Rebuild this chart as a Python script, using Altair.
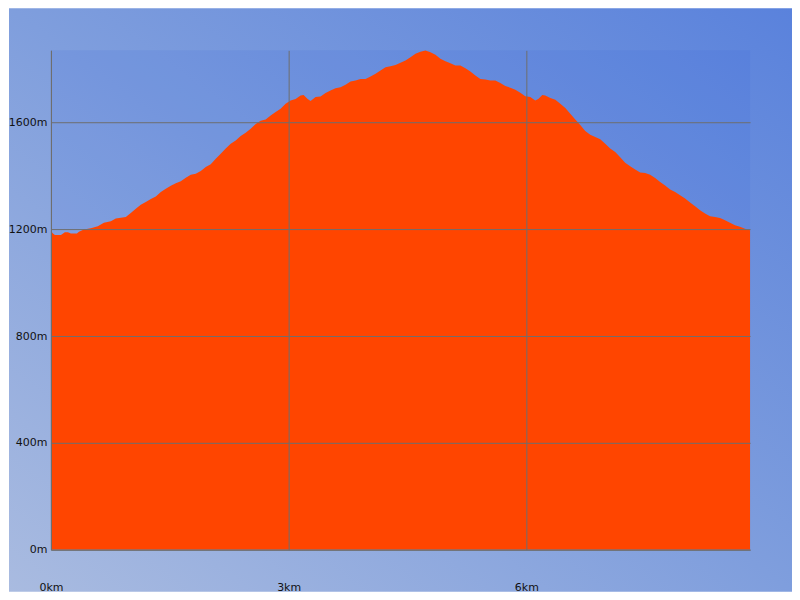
import altair as alt
import pandas as pd

distance_km = [0.000, 0.025, 0.050, 0.126, 0.176, 0.214, 0.252, 0.328, 0.353, 0.416,
               0.504, 0.592, 0.668, 0.756, 0.819, 0.945, 1.008, 1.071, 1.134, 1.197,
               1.261, 1.324, 1.387, 1.450, 1.513, 1.576, 1.639, 1.702, 1.765, 1.828,
               1.891, 1.954, 2.017, 2.080, 2.143, 2.206, 2.269, 2.332, 2.395, 2.458,
               2.521, 2.584, 2.647, 2.710, 2.773, 2.836, 2.899, 2.962, 3.025, 3.088,
               3.151, 3.189, 3.240, 3.277, 3.340, 3.403, 3.466, 3.529, 3.592, 3.655,
               3.718, 3.782, 3.845, 3.908, 3.971, 4.034, 4.097, 4.160, 4.223, 4.286,
               4.349, 4.412, 4.475, 4.538, 4.601, 4.664, 4.727, 4.790, 4.853, 4.916,
               4.979, 5.042, 5.105, 5.168, 5.231, 5.294, 5.357, 5.420, 5.483, 5.546,
               5.609, 5.672, 5.735, 5.798, 5.861, 5.924, 5.987, 6.050, 6.113, 6.151,
               6.202, 6.239, 6.303, 6.366, 6.429, 6.492, 6.555, 6.618, 6.681, 6.744,
               6.807, 6.870, 6.933, 6.996, 7.059, 7.122, 7.185, 7.248, 7.311, 7.374,
               7.437, 7.500, 7.563, 7.626, 7.689, 7.752, 7.815, 7.878, 7.941, 8.004,
               8.067, 8.130, 8.193, 8.256, 8.319, 8.382, 8.445, 8.508, 8.571, 8.634,
               8.697, 8.760, 8.824]

elevation_m = [1194, 1184, 1178, 1178, 1189, 1189, 1184, 1184, 1191, 1199,
               1204, 1211, 1224, 1230, 1240, 1246, 1261, 1277, 1292, 1302,
               1313, 1323, 1339, 1352, 1363, 1372, 1380, 1393, 1404, 1408,
               1418, 1433, 1443, 1464, 1483, 1502, 1520, 1532, 1549, 1561,
               1576, 1594, 1606, 1611, 1626, 1639, 1651, 1670, 1682, 1688,
               1701, 1703, 1688, 1680, 1695, 1697, 1710, 1720, 1728, 1732,
               1741, 1753, 1757, 1763, 1763, 1772, 1782, 1794, 1807, 1810,
               1815, 1823, 1832, 1844, 1857, 1865, 1869, 1863, 1853, 1838,
               1829, 1822, 1813, 1813, 1803, 1791, 1776, 1763, 1761, 1757,
               1757, 1748, 1736, 1730, 1722, 1711, 1698, 1695, 1682, 1688,
               1703, 1701, 1691, 1685, 1670, 1654, 1632, 1611, 1590, 1568,
               1554, 1545, 1537, 1520, 1502, 1489, 1470, 1449, 1436, 1424,
               1412, 1411, 1404, 1392, 1377, 1364, 1349, 1339, 1327, 1315,
               1300, 1286, 1271, 1259, 1249, 1246, 1242, 1234, 1224, 1215,
               1209, 1202, 1196]

x_ticks = [0, 3, 6]
y_ticks = [0, 400, 800, 1200, 1600]
x_max = 8.824
y_max = 1870

df = pd.DataFrame({"km": distance_km, "elev": elevation_m})
one_row = pd.DataFrame({"k": [0]})

FONT = "DejaVu Sans"
GRID = "#6e6e6e"

bg = alt.Chart(one_row).mark_rect(
    fill=alt.LinearGradient(
        gradient="linear",
        stops=[
            alt.GradientStop(color="#a9bbe0", offset=0),
            alt.GradientStop(color="#7f9edd", offset=0.5),
            alt.GradientStop(color="#5a82dc", offset=1),
        ],
        x1=0, y1=1, x2=1, y2=0,
    ),
    strokeWidth=0,
).encode(
    x=alt.value(-42), x2=alt.value(742),
    y=alt.value(-42), y2=alt.value(542),
)

plot_tint = alt.Chart(one_row).mark_rect(
    fill="#3366dd", fillOpacity=0.12, strokeWidth=0
).encode(
    x=alt.value(0), x2=alt.value(700),
    y=alt.value(0), y2=alt.value(500),
)

area = alt.Chart(df).mark_area(color="#ff4500", interpolate="linear").encode(
    x=alt.X("km:Q",
            scale=alt.Scale(domain=[0, x_max], nice=False, zero=True),
            axis=alt.Axis(values=x_ticks, labelExpr="datum.value + 'km'",
                          title=None, ticks=False, tickSize=0,
                          labelPadding=38, labelBaseline="middle",
                          labelFlush=False, labelAlign="center",
                          grid=True, gridColor=GRID, gridWidth=1, gridOpacity=1,
                          domain=True, domainColor=GRID, domainWidth=1,
                          labelFont=FONT, labelFontSize=11, labelColor="#111111",
                          zindex=1)),
    y=alt.Y("elev:Q",
            scale=alt.Scale(domain=[0, y_max], nice=False, zero=True),
            axis=alt.Axis(values=y_ticks, labelExpr="datum.value + 'm'",
                          title=None, ticks=False, tickSize=0,
                          labelPadding=4,
                          grid=True, gridColor=GRID, gridWidth=1, gridOpacity=1,
                          domain=True, domainColor=GRID, domainWidth=1,
                          labelFont=FONT, labelFontSize=11, labelColor="#111111",
                          zindex=1)),
)

chart = alt.layer(bg, plot_tint, area).properties(
    width=700, height=500, padding=0
).configure_view(stroke=None, strokeWidth=0)

chart.save("out.html", embed_options={"renderer": "svg", "actions": False})
